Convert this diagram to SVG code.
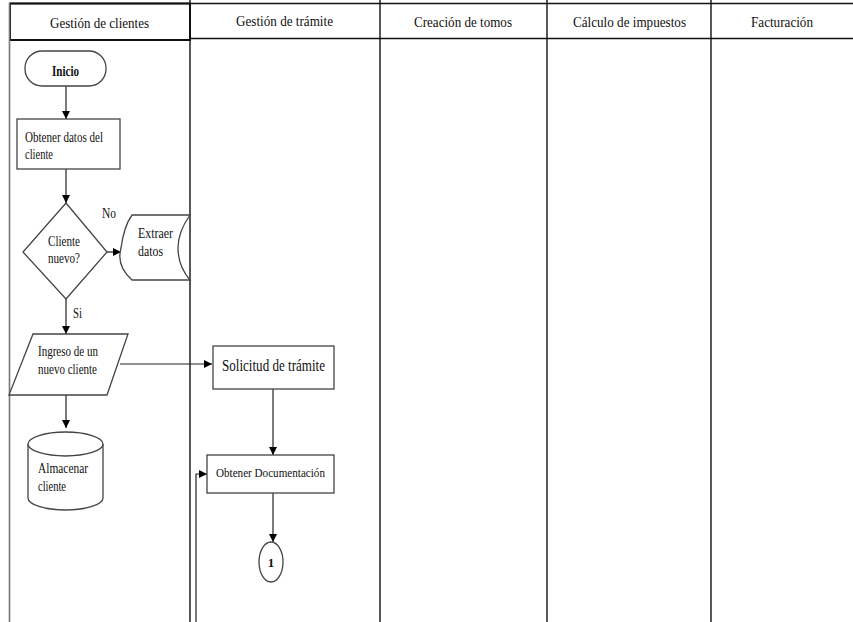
<svg xmlns="http://www.w3.org/2000/svg" width="853" height="622" viewBox="0 0 853 622">
  <style>
    text { font-family: "Liberation Serif", "DejaVu Serif", "Times New Roman", serif; fill: #111; }
    .hdr { font-size: 15px; }
    .lbl { font-size: 14px; }
    .shape { fill: #fff; stroke: #444; stroke-width: 1.3; }
    .lane { stroke: #111; stroke-width: 1.4; fill: none; }
    .edge-a { stroke: #222; stroke-width: 1.2; fill: none; marker-end: url(#arrow); }
  </style>
  <defs>
    <marker id="arrow" viewBox="0 0 10 10" refX="10" refY="5" markerWidth="8" markerHeight="8" markerUnits="userSpaceOnUse" orient="auto">
      <path d="M0,0 L10,5 L0,10 z" fill="#000"/>
    </marker>
  </defs>

  <rect width="853" height="622" fill="#fff"/>

  <!-- swimlane frame -->
  <g id="lanes" font-family="Liberation Serif, DejaVu Serif, serif">
    <line class="lane" x1="10" y1="3.5" x2="853" y2="3.5" stroke-width="2"/>
    <line class="lane" x1="190" y1="38.5" x2="853" y2="38.5"/>
    <rect x="10" y="3.5" width="180" height="36.5" fill="none" stroke="#111" stroke-width="2"/>
    <line x1="9.5" y1="3" x2="9.5" y2="622" stroke="#777" stroke-width="1.6"/>
    <line class="lane" x1="190" y1="0" x2="190" y2="622"/>
    <line class="lane" x1="380" y1="0" x2="380" y2="622"/>
    <line class="lane" x1="547" y1="0" x2="547" y2="622"/>
    <line class="lane" x1="711" y1="0" x2="711" y2="622"/>
    <text class="hdr" x="50" y="28" textLength="99" lengthAdjust="spacingAndGlyphs">Gestión de clientes</text>
    <text class="hdr" x="236" y="26" textLength="97" lengthAdjust="spacingAndGlyphs">Gestión de trámite</text>
    <text class="hdr" x="414" y="27" textLength="98" lengthAdjust="spacingAndGlyphs">Creación de tomos</text>
    <text class="hdr" x="573" y="27" textLength="113" lengthAdjust="spacingAndGlyphs">Cálculo de impuestos</text>
    <text class="hdr" x="751" y="27" textLength="62" lengthAdjust="spacingAndGlyphs">Facturación</text>
  </g>

  <!-- connectors -->
  <g id="connectors">
    <line class="edge-a" x1="66" y1="86" x2="66" y2="119"/>
    <line class="edge-a" x1="66" y1="169" x2="66" y2="203"/>
    <line class="edge-a" x1="107" y1="252" x2="121" y2="252"/>
    <line class="edge-a" x1="66" y1="299" x2="66" y2="334"/>
    <line class="edge-a" x1="120" y1="364" x2="212" y2="364"/>
    <line class="edge-a" x1="66" y1="395" x2="66" y2="428"/>
    <line class="edge-a" x1="273" y1="389" x2="273" y2="455"/>
    <line class="edge-a" x1="273" y1="493" x2="273" y2="542"/>
    <polyline class="edge-a" points="196,622 196,474 207,474" stroke="#666"/>
    <text class="lbl" x="102" y="218" textLength="14" lengthAdjust="spacingAndGlyphs">No</text>
    <text class="lbl" x="73" y="318" textLength="9" lengthAdjust="spacingAndGlyphs">Si</text>
  </g>

  <g id="inicio">
    <rect class="shape" x="25" y="51" width="81" height="35" rx="17" ry="17"/>
    <text x="52" y="76" font-size="14" font-weight="bold" textLength="27" lengthAdjust="spacingAndGlyphs">Inicio</text>
  </g>

  <g id="obtener-datos">
    <rect class="shape" x="17" y="119" width="103" height="50"/>
    <text class="lbl" x="25" y="142" textLength="78" lengthAdjust="spacingAndGlyphs">Obtener datos del</text>
    <text class="lbl" x="25" y="159" textLength="28" lengthAdjust="spacingAndGlyphs">cliente</text>
  </g>

  <g id="cliente-nuevo">
    <polygon class="shape" points="66,203 107,252 66,299 23,252"/>
    <text class="lbl" x="48" y="246" textLength="32" lengthAdjust="spacingAndGlyphs">Cliente</text>
    <text class="lbl" x="48" y="263" textLength="32" lengthAdjust="spacingAndGlyphs">nuevo?</text>
  </g>

  <g id="extraer-datos">
    <path class="shape" d="M132,215 L190,215 Q178,232 178,248 Q178,266 190,280 L132,280 Q116,266 121,248 Q124,226 132,215 z"/>
    <text class="lbl" x="138" y="238" textLength="35" lengthAdjust="spacingAndGlyphs">Extraer</text>
    <text class="lbl" x="138" y="256" textLength="25" lengthAdjust="spacingAndGlyphs">datos</text>
  </g>

  <g id="ingreso-cliente">
    <polygon class="shape" points="33,334 128,334 107,395 9,395"/>
    <text class="lbl" x="38" y="356" textLength="60" lengthAdjust="spacingAndGlyphs">Ingreso de un</text>
    <text class="lbl" x="38" y="374" textLength="59" lengthAdjust="spacingAndGlyphs">nuevo cliente</text>
  </g>

  <g id="almacenar-cliente">
    <path class="shape" d="M28,444 A37.5,12 0 0 1 103,444 L103,498 A37.5,12 0 0 1 28,498 z"/>
    <path class="shape" d="M28,444 A37.5,12 0 0 0 103,444" fill="none"/>
    <text class="lbl" x="38" y="473" textLength="50" lengthAdjust="spacingAndGlyphs">Almacenar</text>
    <text class="lbl" x="38" y="491" textLength="28" lengthAdjust="spacingAndGlyphs">cliente</text>
  </g>

  <g id="solicitud-tramite">
    <rect class="shape" x="213" y="346" width="121" height="43"/>
    <text x="222" y="371" font-size="17" textLength="103" lengthAdjust="spacingAndGlyphs">Solicitud de trámite</text>
  </g>

  <g id="obtener-documentacion">
    <rect class="shape" x="207" y="455" width="127" height="38"/>
    <text x="216" y="477" font-size="13" textLength="109" lengthAdjust="spacingAndGlyphs">Obtener Documentación</text>
  </g>

  <g id="conector-1">
    <ellipse class="shape" cx="271" cy="562" rx="12" ry="20" stroke="#555"/>
    <text x="271" y="567" font-size="13" font-weight="bold" text-anchor="middle">1</text>
  </g>
</svg>
